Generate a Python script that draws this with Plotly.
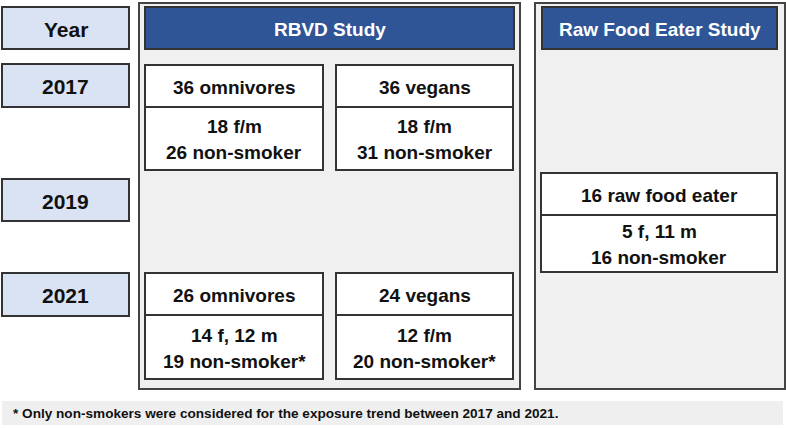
import plotly.graph_objects as go

# ---- data ----
year_labels = ["Year", "2017", "2019", "2021"]
study_titles = ["RBVD Study", "Raw Food Eater Study"]
rbvd_2017_titles = ["36 omnivores", "36 vegans"]
rbvd_2017_details = [["18 f/m", "26 non-smoker"], ["18 f/m", "31 non-smoker"]]
rbvd_2021_titles = ["26 omnivores", "24 vegans"]
rbvd_2021_details = [["14 f, 12 m", "19 non-smoker*"], ["12 f/m", "20 non-smoker*"]]
raw_2019_title = "16 raw food eater"
raw_2019_details = ["5 f, 11 m", "16 non-smoker"]
footnote = "* Only non-smokers were considered for the exposure trend between 2017 and 2021."

# ---- layout geometry ----
W, H = 786, 428
FONT = "Liberation Sans, Arial, sans-serif"
BORDER = "#333333"
BLUE = "#2F5597"
YEARFILL = "#DAE3F3"
PANEL = "#F0F0F0"

shapes = []
annotations = []

def rect(x0, y0, x1, y1, fill, line=BORDER, width=2):
    shapes.append(dict(type="rect", xref="x", yref="y", x0=x0, y0=y0, x1=x1, y1=y1,
                       fillcolor=fill, line=dict(color=line, width=width), layer="below"))

def hline(x0, x1, y):
    shapes.append(dict(type="line", xref="x", yref="y", x0=x0, x1=x1, y0=y, y1=y,
                       line=dict(color=BORDER, width=2), layer="below"))

def text(x, y, s, size=19, color="#111", xanchor="center"):
    annotations.append(dict(x=x, y=y, xref="x", yref="y", text="<b>%s</b>" % s,
                            showarrow=False, xanchor=xanchor, yanchor="middle",
                            font=dict(family=FONT, size=size, color=color)))

# panels
rect(139, 3, 520, 389, PANEL, line="#444444", width=2)
rect(535, 3, 785, 389, PANEL, line="#444444", width=2)

# year boxes
year_rows = [(7, 49), (64, 107), (179, 221), (273, 316)]
for lab, (y0, y1) in zip(year_labels, year_rows):
    rect(2, y0, 129, y1, YEARFILL)
    text(65.5, (y0 + y1) / 2 + 1, lab, size=21)

# headers
rect(145, 7, 514, 49, BLUE)
text(329.5, 29, study_titles[0], size=19, color="white")
rect(542, 7, 777, 49, BLUE)
text(659.5, 29, study_titles[1], size=19, color="white")

LINE_GAP = 26

def group_box(x0, x1, y0, ydiv, y1, title, details):
    rect(x0, y0, x1, y1, "white")
    hline(x0, x1, ydiv)
    cx = (x0 + x1) / 2
    text(cx, (y0 + ydiv) / 2 + 1, title)
    mid = (ydiv + y1) / 2
    n = len(details)
    for i, d in enumerate(details):
        text(cx, mid + 1 + (i - (n - 1) / 2) * LINE_GAP, d)

cols = [(145, 323), (336, 513)]
for (x0, x1), t, d in zip(cols, rbvd_2017_titles, rbvd_2017_details):
    group_box(x0, x1, 65, 107, 170, t, d)
for (x0, x1), t, d in zip(cols, rbvd_2021_titles, rbvd_2021_details):
    group_box(x0, x1, 273, 315, 379, t, d)
group_box(541, 777, 173, 215, 272, raw_2019_title, raw_2019_details)

# footnote band
shapes.append(dict(type="rect", xref="x", yref="y", x0=2, y0=401, x1=783, y1=425,
                   fillcolor="#EFEFEF", line=dict(width=0), layer="below"))
text(11, 413.5, footnote, size=13.6, xanchor="left")

fig = go.Figure()
fig.add_trace(go.Scatter(x=[0, W], y=[0, H], mode="markers",
                         marker=dict(opacity=0), hoverinfo="skip", showlegend=False))
fig.update_layout(
    width=W, height=H, margin=dict(l=0, r=0, t=0, b=0),
    paper_bgcolor="white", plot_bgcolor="white",
    xaxis=dict(range=[0, W], visible=False, fixedrange=True),
    yaxis=dict(range=[H, 0], visible=False, fixedrange=True),
    shapes=shapes, annotations=annotations, showlegend=False,
)
fig.write_html("out.html", config={"displayModeBar": False},
               post_script="document.body.style.margin='0';document.body.style.padding='0';document.body.style.overflow='hidden';")
